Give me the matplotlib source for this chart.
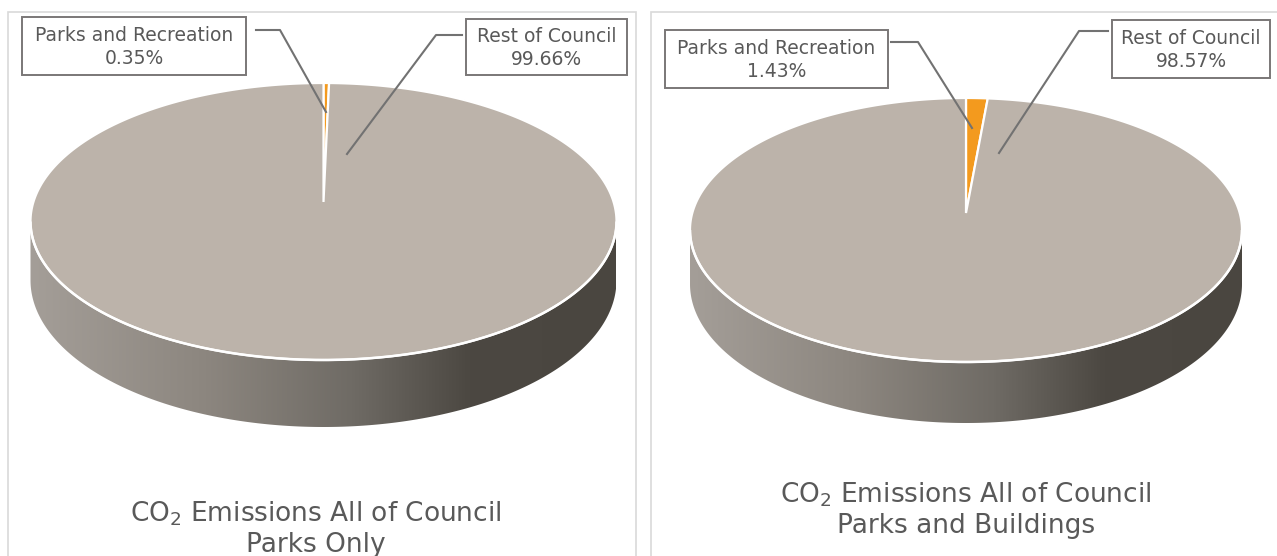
import matplotlib.pyplot as plt
import numpy as np
from matplotlib.colors import LinearSegmentedColormap
from matplotlib.patches import Polygon, Rectangle

categories = ["Parks and Recreation", "Rest of Council"]
parks_only = [0.35, 99.66]
parks_buildings = [1.43, 98.57]
titles = ["CO$_2$ Emissions All of Council\nParks Only",
          "CO$_2$ Emissions All of Council\nParks and Buildings"]

slice_colors = ["#F39A1E", "#BCB3AA"]
text_col = "#595959"
line_col = "#727272"
side_cmap = LinearSegmentedColormap.from_list(
    "side", [(0.0, "#A49E98"), (0.3, "#8C867F"), (0.55, "#6F6B65"),
             (0.75, "#4C4842"), (1.0, "#4A4640")])

W, H = 1277, 556
fig = plt.figure(figsize=(W / 100, H / 100), dpi=100)
ax = fig.add_axes([0, 0, 1, 1])
ax.set_xlim(0, W)
ax.set_ylim(H, 0)
ax.axis("off")


class Disc:
    """Tilted disc seen in perspective (pixel coordinates)."""

    def __init__(self, cx, cy, far, near, xhalf, depth):
        self.cx, self.cy = cx, cy
        self.p = (near - far) / (near + far)
        self.B = far * (1 + self.p)
        self.A = xhalf * np.sqrt(1 - self.p ** 2)
        self.H = depth * (1 - self.p)

    def proj(self, u, v, h=0.0):
        w = 1 - self.p * v
        return self.cx + self.A * u / w, self.cy + (self.B * v + h) / w


def draw_pie(disc, values):
    # side wall: front arc between the two silhouette points
    phi0 = np.arcsin(disc.p)
    phi = np.linspace(phi0, np.pi - phi0, 300)
    u, v = np.cos(phi), np.sin(phi)
    tx, ty = disc.proj(u, v)
    bx, by = disc.proj(u, v, disc.H)
    verts = np.vstack([np.column_stack([tx, ty]),
                       np.column_stack([bx[::-1], by[::-1]])])
    side = Polygon(verts, closed=True, facecolor="none", edgecolor="none")
    ax.add_patch(side)
    x0, x1 = tx.min(), tx.max()
    grad = np.linspace(0, 1, 256).reshape(1, -1)
    im = ax.imshow(grad, cmap=side_cmap, aspect="auto",
                   extent=[x0, x1, by.max() + 2, ty.min() - 2], zorder=1)
    im.set_clip_path(side)

    # top face, slices clockwise from 12 o'clock
    fracs = np.array(values) / np.sum(values)
    start = 0.0
    for frac, col in zip(fracs, slice_colors):
        th = np.linspace(start, start + frac * 2 * np.pi, max(int(frac * 600), 4))
        uu = np.concatenate([[0], np.sin(th)])
        vv = np.concatenate([[0], -np.cos(th)])
        px, py = disc.proj(uu, vv)
        ax.add_patch(Polygon(np.column_stack([px, py]), closed=True,
                             facecolor=col, edgecolor="white", lw=1.6,
                             joinstyle="miter", zorder=2))
        start += frac * 2 * np.pi
    # white highlight on the front rim
    ax.plot(tx, ty, color="white", lw=1.8, zorder=3, solid_capstyle="butt")


def callout(box, text, line_pts):
    x0, y0, x1, y1 = box
    ax.add_patch(Rectangle((x0, y0), x1 - x0, y1 - y0, facecolor="white",
                           edgecolor="#7A7777", lw=1.4, zorder=5))
    ax.text((x0 + x1) / 2, (y0 + y1) / 2 + 1, text, ha="center", va="center",
            fontsize=13.5, color=text_col, linespacing=1.3, zorder=6)
    xs, ys = zip(*line_pts)
    ax.plot(xs, ys, color=line_col, lw=1.5, zorder=4)


# panel frames
ax.add_patch(Rectangle((8, 12), 628, 560, facecolor="white",
                       edgecolor="#D9D9D9", lw=1.2, zorder=0))
ax.add_patch(Rectangle((651, 12), 640, 560, facecolor="white",
                       edgecolor="#D9D9D9", lw=1.2, zorder=0))

left = Disc(323.5, 202, 119, 158, 293, 67)
right = Disc(966, 213, 115, 149, 276, 61)
draw_pie(left, parks_only)
draw_pie(right, parks_buildings)

callout((22, 17, 246, 75), f"{categories[0]}\n{parks_only[0]:.2f}%",
        [(256, 30), (280, 30), (326, 112)])
callout((466, 19, 627, 75), f"{categories[1]}\n{parks_only[1]:.2f}%",
        [(462, 35), (436, 35), (347, 154)])
callout((665, 30, 888, 88), f"{categories[0]}\n{parks_buildings[0]:.2f}%",
        [(891, 42), (918, 42), (972, 128)])
callout((1112, 20, 1270, 78), f"{categories[1]}\n{parks_buildings[1]:.2f}%",
        [(1108, 31), (1079, 31), (999, 153)])

ax.text(316, 529, titles[0], ha="center", va="center", fontsize=19,
        color=text_col, linespacing=1.2)
ax.text(966, 510, titles[1], ha="center", va="center", fontsize=19,
        color=text_col, linespacing=1.2)

fig.savefig("out.png", dpi=100)
